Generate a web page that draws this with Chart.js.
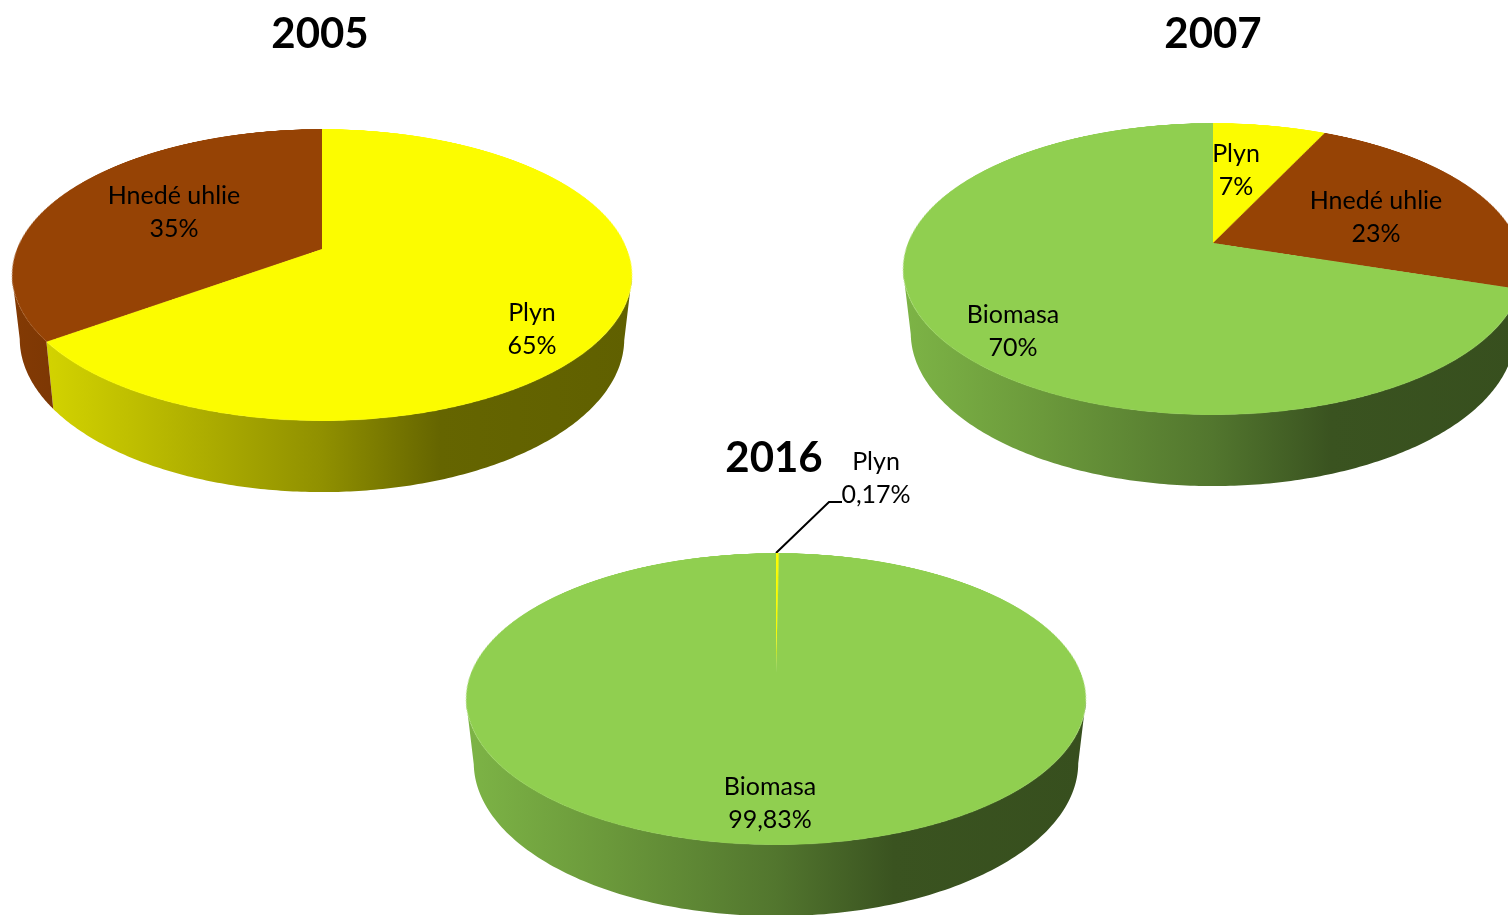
<!DOCTYPE html>
<html lang="sk">
<head>
<meta charset="utf-8">
<title>Palivový mix</title>
<script src="https://cdn.jsdelivr.net/npm/chart.js@4"></script>
<style>
    html, body { margin: 0; background: #fff; }
    #page { position: relative; width: 1508px; height: 915px; overflow: hidden; font-family: Lato, sans-serif; color: #000; }
    #page canvas { position: absolute; }
    .title { position: absolute; font-size: 42px; font-weight: 700; line-height: 50px; transform: translateX(-50%); }
    .label { position: absolute; font-size: 25px; line-height: 32.5px; text-align: center; white-space: pre; transform: translateX(-50%); }
    #leader { position: absolute; left: 0; top: 0; }
</style>
</head>
<body>
<div id="page">
    <svg id="leader" width="1508" height="915">
        <polyline points="776,553 829,502 842,502" fill="none" stroke="#000" stroke-width="2"/>
    </svg>
</div>
<script>
// data
const years = ["2005", "2007", "2016"];

const categories2005 = ["Plyn", "Hnedé uhlie"];
const values2005 = [65, 35];

const categories2007 = ["Plyn", "Hnedé uhlie", "Biomasa"];
const values2007 = [7, 23, 70];

const categories2016 = ["Plyn", "Biomasa"];
const values2016 = [0.17, 99.83];

const fuelColors = { "Plyn": "#FCFC00", "Hnedé uhlie": "#964305", "Biomasa": "#90CF50" };

// layout of each pie: apex of the slices and where the titles and labels sit
const layouts = [
    {
        apexX: 322, apexY: 248.5, titleX: 320, titleY: 7,
        labels: [[532, 295], [174, 178]]
    },
    {
        apexX: 1213, apexY: 242.5, titleX: 1213, titleY: 7,
        labels: [[1236, 136], [1376, 183], [1013, 297]]
    },
    {
        apexX: 776, apexY: 672.5, titleX: 774, titleY: 431,
        labels: [[876, 444], [770, 769]]
    }
];

// shape of the tilted disc, in screen px
const upFromApex = 120;
const downFromApex = 172;
const halfWidth = 310;
const wallDepth = 63;
const wallShrinkX = 0.975;
const wallShrinkY = 1.05;

// derived perspective: the apex sits above the centre of the ellipse
const q = (downFromApex - upFromApex) / (downFromApex + upFromApex);
const A = upFromApex * (1 + q);
const R = halfWidth * Math.sqrt(1 - q * q);
const tilt = Math.acos(A / R);
const viewDist = R * Math.sin(tilt) / q;

// brightness of the side wall from left to right
const wallStops = [[-1, 0.87], [-0.55, 0.74], [0, 0.57], [0.38, 0.40], [1, 0.38]];

function shade(hex, f) {
    const n = parseInt(hex.slice(1), 16);
    const r = Math.round((n >> 16 & 255) * f);
    const g = Math.round((n >> 8 & 255) * f);
    const b = Math.round((n & 255) * f);
    return `rgb(${r},${g},${b})`;
}

function project(angle) {
    const u = Math.cos(angle);
    const v = Math.sin(angle);
    const w = 1 - q * v;
    return { x: R * u / w, y: A * v / w };
}

// draws the wall under each visible arc, from the arc's own angles
function wallPlugin(wallCanvas, apexX, apexY) {
    return {
        id: "wall",
        afterDraw(chart) {
            const ctx = wallCanvas.getContext("2d");
            chart.getDatasetMeta(0).data.forEach(arc => {
                const top = [];
                const steps = 360;
                for (let i = 0; i <= steps; i++) {
                    const a = arc.startAngle + (arc.endAngle - arc.startAngle) * i / steps;
                    if (Math.sin(a) >= q) top.push(project(a));
                }
                if (top.length < 2) return;

                const grad = ctx.createLinearGradient(apexX - halfWidth, 0, apexX + halfWidth, 0);
                wallStops.forEach(s => grad.addColorStop((s[0] + 1) / 2, shade(arc.options.backgroundColor, s[1])));

                ctx.beginPath();
                top.forEach((p, i) => {
                    if (i === 0) ctx.moveTo(apexX + p.x, apexY + p.y);
                    else ctx.lineTo(apexX + p.x, apexY + p.y);
                });
                top.slice().reverse().forEach(p => {
                    ctx.lineTo(apexX + p.x * wallShrinkX, apexY + p.y * wallShrinkY + wallDepth);
                });
                ctx.closePath();
                ctx.fillStyle = grad;
                ctx.fill();
            });
        }
    };
}

function formatValue(v) {
    return String(v).replace(".", ",") + "%";
}

function addPie(index, categories, values) {
    const page = document.getElementById("page");
    const layout = layouts[index];

    const wall = document.createElement("canvas");
    wall.width = 1508;
    wall.height = 915;
    page.appendChild(wall);

    const size = Math.round(R * 2);
    const face = document.createElement("canvas");
    face.width = size;
    face.height = size;
    face.style.left = (layout.apexX - size / 2) + "px";
    face.style.top = (layout.apexY - size / 2) + "px";
    page.appendChild(face);

    new Chart(face, {
        type: "pie",
        data: {
            labels: categories,
            datasets: [{
                data: values,
                backgroundColor: categories.map(c => fuelColors[c]),
                borderWidth: 0
            }]
        },
        options: {
            responsive: false,
            animation: false,
            devicePixelRatio: 2,
            plugins: { legend: { display: false }, tooltip: { enabled: false } }
        },
        plugins: [wallPlugin(wall, layout.apexX, layout.apexY)]
    });

    // chart canvas sets its own inline size, so the tilt goes on after it
    face.style.transform = `perspective(${viewDist}px) rotateX(${tilt}rad)`;

    const title = document.createElement("div");
    title.className = "title";
    title.textContent = years[index];
    title.style.left = layout.titleX + "px";
    title.style.top = layout.titleY + "px";
    page.appendChild(title);

    categories.forEach((c, i) => {
        const label = document.createElement("div");
        label.className = "label";
        label.textContent = c + "\n" + formatValue(values[i]);
        label.style.left = layout.labels[i][0] + "px";
        label.style.top = layout.labels[i][1] + "px";
        page.appendChild(label);
    });
}

addPie(0, categories2005, values2005);
addPie(1, categories2007, values2007);
addPie(2, categories2016, values2016);
</script>
</body>
</html>
